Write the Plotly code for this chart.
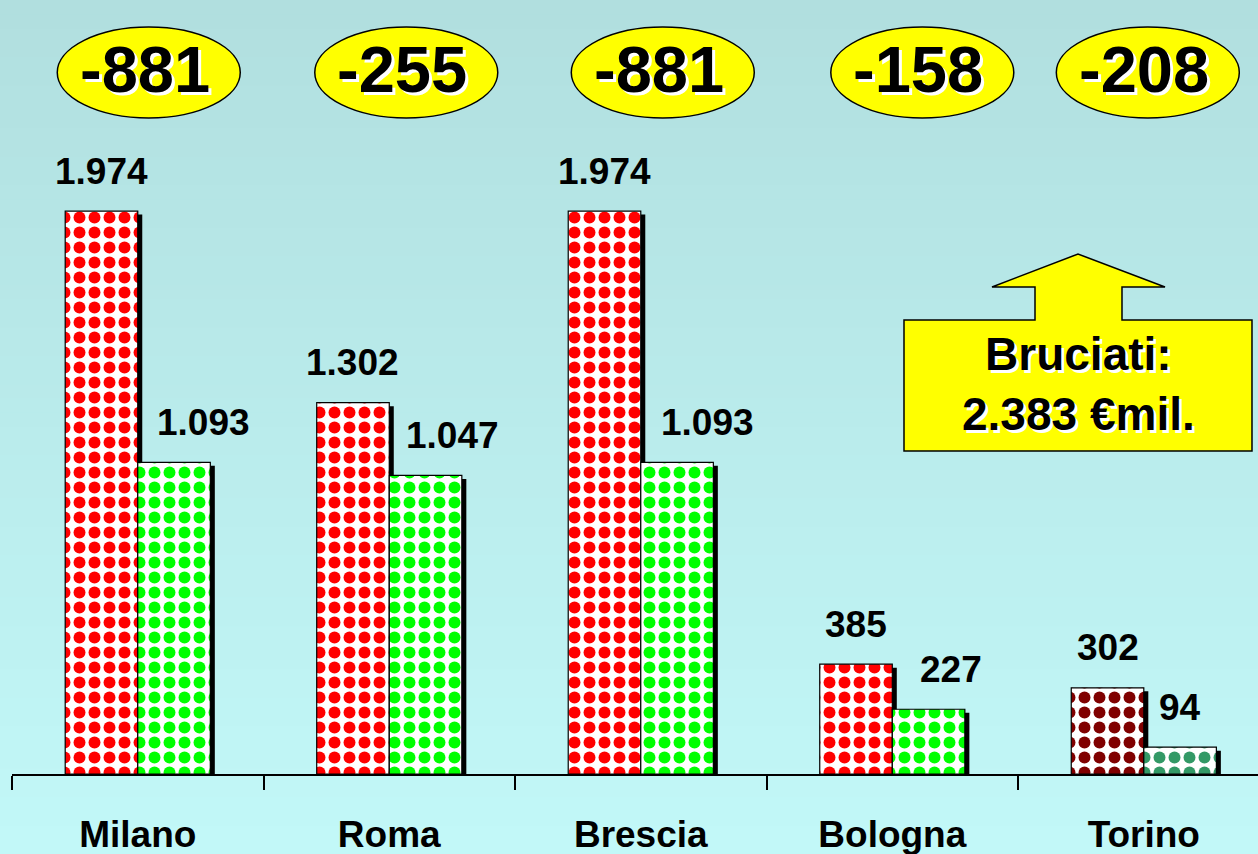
import plotly.graph_objects as go

# ---------------- data ----------------
categories = ["Milano", "Roma", "Brescia", "Bologna", "Torino"]
before = [1974, 1302, 1974, 385, 302]
after = [1093, 1047, 1093, 227, 94]
before_colors = ["#FF0000", "#FF0000", "#FF0000", "#FF0000", "#800000"]
after_colors = ["#00FF00", "#00FF00", "#00FF00", "#00FF00", "#339966"]

def it_num(v):
    return f"{v:,}".replace(",", ".")

diffs = [a - b for a, b in zip(after, before)]
total_burnt = -sum(diffs)

# ---------------- geometry (layout) ----------------
W, H = 1258, 854
ML, MR, MT, MB = 12, 0, 0, 80
PW, PH = W - ML - MR, H - MT - MB
XR = [-0.5, 4.454]
YR = [0, 2714]
PX_X = PW / (XR[1] - XR[0])
PX_Y = PH / (YR[1] - YR[0])
BW = 0.2885

def xp(px):  # pixel -> paper x
    return (px - ML) / PW

def yp(py):  # pixel -> paper y
    return (MT + PH - py) / PH

FONT = "Liberation Sans, Arial, sans-serif"
idx = list(range(len(categories)))

fig = go.Figure()

pat = dict(shape=".", bgcolor="white", size=15, solidity=0.5, fillmode="overlay", fgopacity=1)

fig.add_trace(go.Bar(
    x=idx, y=before, width=BW, offset=-BW,
    marker=dict(color="white", line=dict(color="black", width=1.2),
                pattern=dict(pat, fgcolor=before_colors)),
    showlegend=False, hoverinfo="skip"))
fig.add_trace(go.Bar(
    x=idx, y=after, width=BW, offset=0,
    marker=dict(color="white", line=dict(color="black", width=1.2),
                pattern=dict(pat, fgcolor=after_colors)),
    showlegend=False, hoverinfo="skip"))

shapes = []
# background gradient
top_rgb = (177, 223, 223)
bot_rgb = (194, 248, 248)
N = 60
for k in range(N):
    t = k / (N - 1)
    c = tuple(round(top_rgb[j] + (bot_rgb[j] - top_rgb[j]) * t) for j in range(3))
    y_top = H * k / N
    y_bot = H * (k + 1) / N + 1
    shapes.append(dict(type="rect", xref="paper", yref="paper",
                       x0=xp(0), x1=xp(W), y0=yp(y_bot), y1=yp(y_top),
                       fillcolor="rgb(%d,%d,%d)" % c, line=dict(width=0), layer="below"))

# bar shadows
dx = 4.5 / PX_X
dy = 3.5 / PX_Y
for i in idx:
    for off, vals in ((-BW, before), (0, after)):
        shapes.append(dict(type="rect", xref="x", yref="y",
                           x0=i + off + dx, x1=i + off + BW + dx,
                           y0=-dy, y1=vals[i] - dy,
                           fillcolor="black", line=dict(width=0), layer="below"))

annotations = []
# value labels (after-labels are nudged right as in the original slide)
after_label_shift_px = [29, 27, 30, 22, 0]
for i in idx:
    for off, vals, sh in ((-BW / 2, before, 0), (BW / 2, after, after_label_shift_px[i])):
        annotations.append(dict(x=i + off + sh / PX_X, y=vals[i], xref="x", yref="y",
                                text=it_num(vals[i]), showarrow=False,
                                yanchor="middle", yshift=40,
                                font=dict(family=FONT, size=37, color="black", weight="bold")))

# ellipses with differences
ell_shift_px = [11, 17, 22, 30, 4]
for i in idx:
    cx = i + ell_shift_px[i] / PX_X
    hw = 91.5 / PX_X
    shapes.append(dict(type="circle", xref="x", yref="paper",
                       x0=cx - hw, x1=cx + hw, y0=yp(118), y1=yp(27),
                       fillcolor="#FFFF00", line=dict(color="black", width=1.5)))
    annotations.append(dict(x=cx - 4 / PX_X, y=yp(70), xref="x", yref="paper",
                            text=str(diffs[i]), showarrow=False,
                            xanchor="center", yanchor="middle",
                            font=dict(family=FONT, size=65, color="black", weight="bold",
                                      shadow="3px 3px 0px #ffffff")))

# callout arrow box
pts = [(904, 320), (1035, 320), (1035, 287), (992, 287), (1078, 254), (1165, 287),
       (1122, 287), (1122, 320), (1252, 320), (1252, 451), (904, 451)]
path = "M " + " L ".join("%.5f,%.5f" % (xp(a), yp(b)) for a, b in pts) + " Z"
shapes.append(dict(type="path", xref="paper", yref="paper", path=path,
                   fillcolor="#FFFF00", line=dict(color="black", width=1.5)))
annotations.append(dict(x=xp(1078), y=yp(384), xref="paper", yref="paper",
                        text="Bruciati:<br>" + it_num(total_burnt) + " €mil.",
                        showarrow=False, xanchor="center", yanchor="middle",
                        font=dict(family=FONT, size=46, color="black", weight="bold",
                                  shadow="3px 3px 0px #ffffff")))

fig.update_layout(
    width=W, height=H,
    margin=dict(l=ML, r=MR, t=MT, b=MB, autoexpand=False),
    paper_bgcolor="rgb(194,248,248)",
    plot_bgcolor="rgba(0,0,0,0)",
    shapes=shapes, annotations=annotations,
    barmode="overlay",
    xaxis=dict(range=XR, tickvals=idx, ticktext=categories, ticks="",
               showline=True, linecolor="black", linewidth=1.5, automargin=False,
               showgrid=False, zeroline=False, ticklabelstandoff=27,
               tickfont=dict(family=FONT, size=37, color="black", weight="bold"),
               minor=dict(tickvals=[i - 0.5 for i in idx], ticks="outside",
                          ticklen=14, tickwidth=1.5, tickcolor="black", showgrid=False)),
    yaxis=dict(range=YR, visible=False, showgrid=False, zeroline=False, automargin=False),
)

fig.write_html("out.html", config={"displayModeBar": False},
               post_script="document.body.style.margin='0';document.body.style.overflow='hidden';")
